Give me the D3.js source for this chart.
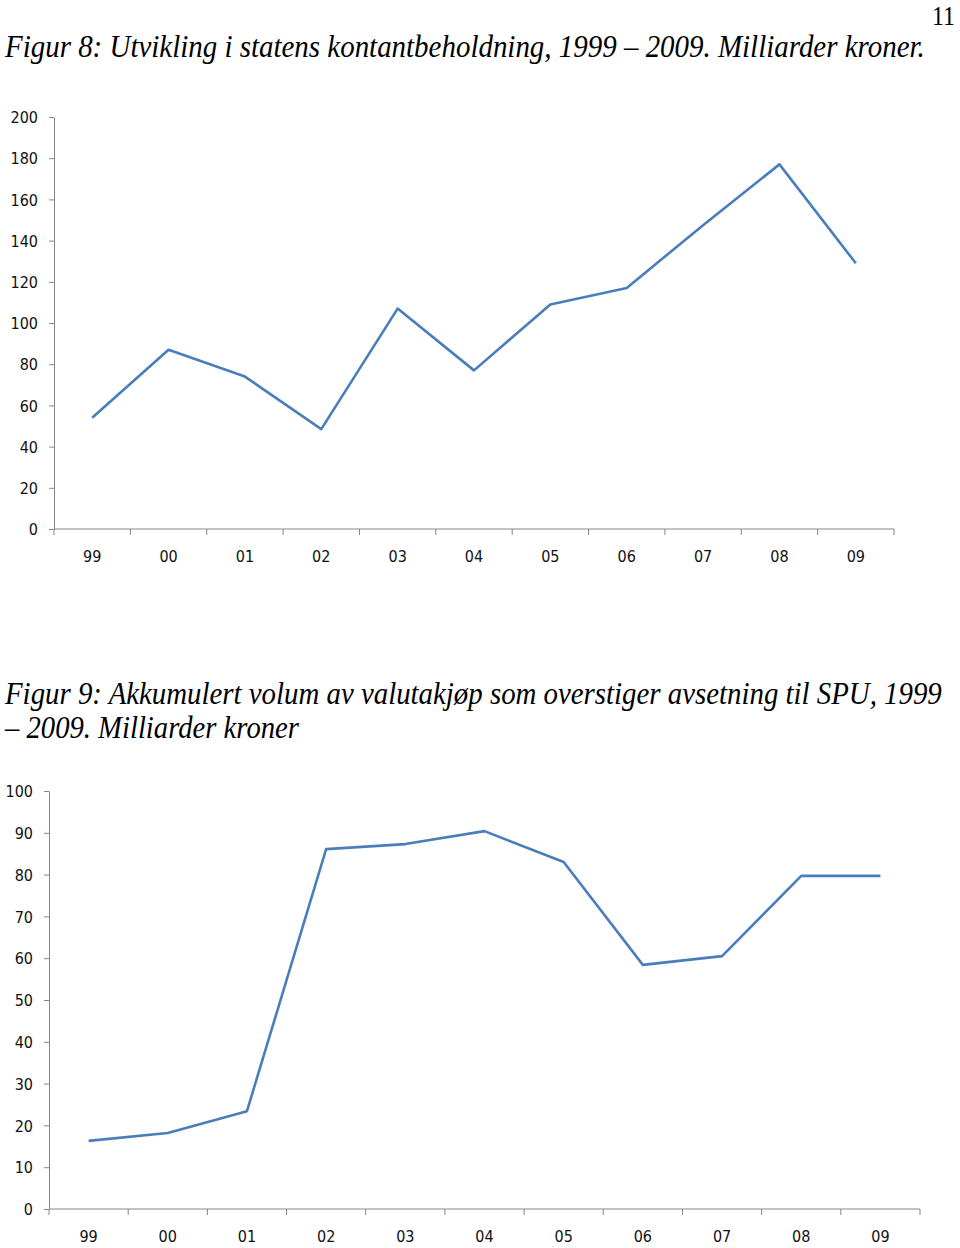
<!DOCTYPE html>
<html lang="no">
<head>
<meta charset="UTF-8" />
<title>Figur 8 og 9</title>
<script src="https://d3js.org/d3.v7.min.js"></script>
<style>
  body { margin: 0; background: white; }
  svg { display: block; }
  .title { font-family: "Liberation Serif", "Times New Roman", serif; font-style: italic; font-size: 31px; fill: #000; }
  .pagenum { font-family: "Liberation Serif", "Times New Roman", serif; font-size: 28px; fill: #000; }
  .axis text { font-family: "DejaVu Sans Condensed", "DejaVu Sans", sans-serif; font-stretch: condensed; font-size: 16px; fill: #111; }
  .axis line, .axis path { stroke: #868686; }
</style>
</head>
<body>
<svg id="page" width="960" height="1248"></svg>
<script>
const years = ["99", "00", "01", "02", "03", "04", "05", "06", "07", "08", "09"];
const kontant = [54, 87, 74, 48.5, 107, 77, 109, 117, 147.5, 177, 129];
const valuta = [16.3, 18.2, 23.4, 86.1, 87.3, 90.4, 83, 58.4, 60.5, 79.7, 79.7];
const ticks8 = [0, 20, 40, 60, 80, 100, 120, 140, 160, 180, 200];
const ticks9 = [0, 10, 20, 30, 40, 50, 60, 70, 80, 90, 100];

const svg = d3.select("#page");

// squeeze a text horizontally to a given width (the source type is condensed)
function squeezed(cls, x, y, width, str) {
  const t = svg.append("text").attr("class", cls).attr("x", 0).attr("y", 0).text(str);
  const w = t.node().getComputedTextLength();
  t.attr("transform", `translate(${x},${y}) scale(${width / w},1)`);
  return t;
}

squeezed("pagenum", 932, 25, 23, "11");
squeezed("title", 5, 57, 920, "Figur 8: Utvikling i statens kontantbeholdning, 1999 – 2009. Milliarder kroner.");
squeezed("title", 5, 704, 937, "Figur 9: Akkumulert volum av valutakjøp som overstiger avsetning til SPU, 1999");
squeezed("title", 5, 738, 294, "– 2009. Milliarder kroner");

function lineChart(cfg) {
  const x = d3.scaleBand().domain(years).range([cfg.left, cfg.right]);
  const y = d3.scaleLinear().domain([0, cfg.max]).range([cfg.bottom, cfg.top]);
  const g = svg.append("g");

  // y axis
  g.append("g").attr("class", "axis")
    .attr("transform", `translate(${cfg.left},0)`)
    .call(d3.axisLeft(y).tickValues(cfg.ticks).tickSize(5).tickSizeOuter(0).tickPadding(11))
    .call(a => a.selectAll("text").attr("dy", "0.36em"));

  // x axis: line with boundary ticks, labels centred in band
  const xa = g.append("g").attr("class", "axis");
  xa.append("line").attr("x1", cfg.left).attr("x2", cfg.right)
    .attr("y1", cfg.bottom).attr("y2", cfg.bottom);
  const bounds = years.map(d => x(d)).concat([x.range()[1]]);
  xa.selectAll("line.tk").data(bounds).join("line").attr("class", "tk")
    .attr("x1", d => d).attr("x2", d => d)
    .attr("y1", cfg.bottom).attr("y2", cfg.bottom + 6);
  xa.selectAll("text").data(years).join("text")
    .attr("x", d => x(d) + x.bandwidth() / 2)
    .attr("y", cfg.bottom + 27)
    .attr("dy", "0.36em")
    .attr("text-anchor", "middle")
    .text(d => d);

  const line = d3.line()
    .x((d, i) => x(years[i]) + x.bandwidth() / 2)
    .y(d => y(d));
  g.append("path").datum(cfg.data)
    .attr("fill", "none")
    .attr("stroke", "#4A7EBB")
    .attr("stroke-width", 2.6)
    .attr("stroke-linejoin", "round")
    .attr("d", line);
}

lineChart({ data: kontant, ticks: ticks8, max: 200, left: 54, right: 894, top: 117, bottom: 529 });
lineChart({ data: valuta, ticks: ticks9, max: 100, left: 49, right: 920, top: 791, bottom: 1209 });
</script>
</body>
</html>
